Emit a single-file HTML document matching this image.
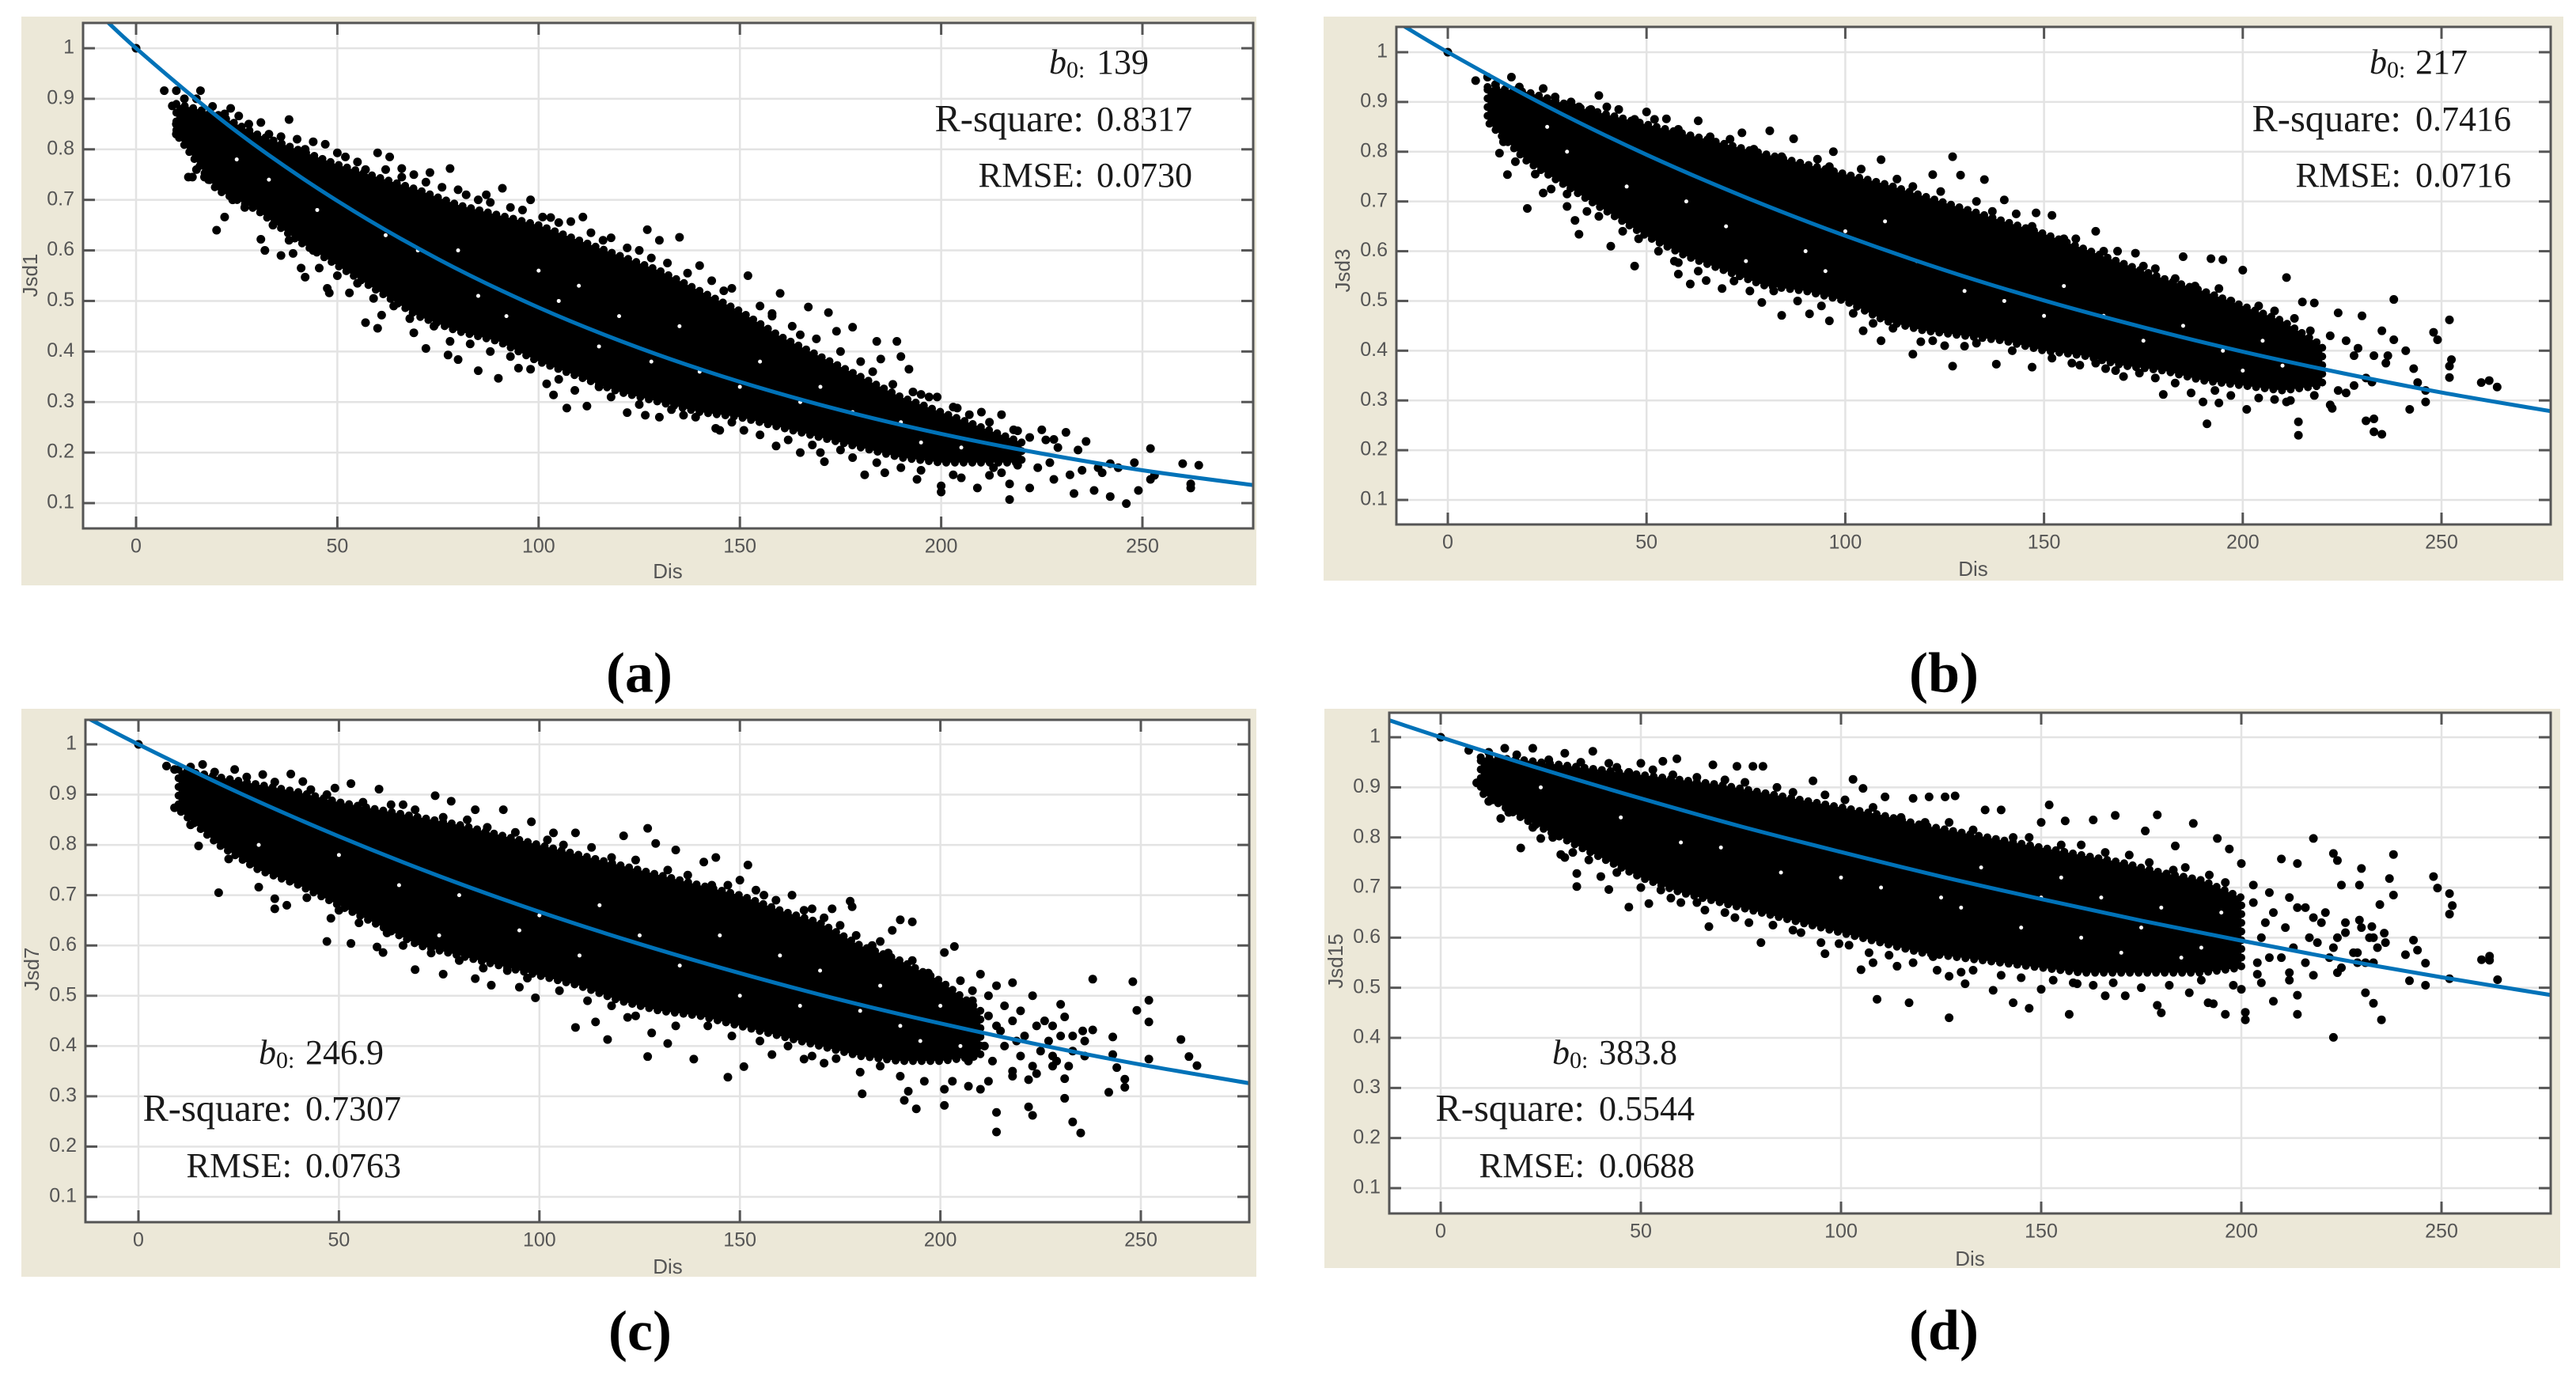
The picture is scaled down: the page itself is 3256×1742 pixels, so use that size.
<!DOCTYPE html>
<html lang="en">
<head>
<meta charset="utf-8">
<title>Jsd versus Dis exponential fits</title>
<style>
html,body{margin:0;padding:0;background:#fff;}
svg{display:block;}
.stat{font-family:"Liberation Serif",serif;font-size:44px;fill:#1a1a1a;dominant-baseline:middle;}
.statr{font-size:48.5px;}
.state{font-size:44.5px;}
.sub{font-family:"Liberation Serif",serif;font-size:72px;font-weight:bold;fill:#000;text-anchor:middle;dominant-baseline:middle;}
.axt{font-family:"Liberation Sans",sans-serif;font-size:26px;fill:#555;text-anchor:middle;dominant-baseline:middle;}
.tick{font-family:"Liberation Sans",sans-serif;font-size:25px;fill:#555;dominant-baseline:middle;}
</style>
</head>
<body>
<svg id="fig" xmlns="http://www.w3.org/2000/svg" width="3256" height="1742" viewBox="0 0 3256 1742">
<rect x="0" y="0" width="3256" height="1742" fill="#fff"/>

<rect x="27" y="21" width="1561" height="719" fill="#ece8d8"/>
<rect x="1673" y="21" width="1567" height="713" fill="#ece8d8"/>
<rect x="27" y="896" width="1561" height="718" fill="#ece8d8"/>
<rect x="1674" y="896" width="1562" height="707" fill="#ece8d8"/>

<g id="plot-a"></g>
<g id="plot-b"></g>
<g id="plot-c"></g>
<g id="plot-d"></g>

<text class="axt" x="844" y="724">Dis</text>
<text class="axt" x="2494" y="721">Dis</text>
<text class="axt" x="844" y="1603">Dis</text>
<text class="axt" x="2490" y="1593">Dis</text>
<text class="axt" transform="translate(40 348) rotate(-90)">Jsd1</text>
<text class="axt" transform="translate(1699 342) rotate(-90)">Jsd3</text>
<text class="axt" transform="translate(42 1225) rotate(-90)">Jsd7</text>
<text class="axt" transform="translate(1690 1215) rotate(-90)">Jsd15</text>

<g>
<text class="stat" x="1326" y="83"><tspan font-style="italic">b</tspan><tspan font-size="30" dy="8">0:</tspan></text>
<text class="stat" x="1386" y="83">139</text>
<text class="stat statr" x="1370" y="155" text-anchor="end">R-square:</text>
<text class="stat" x="1386" y="155">0.8317</text>
<text class="stat state" x="1370" y="226" text-anchor="end">RMSE:</text>
<text class="stat" x="1386" y="226">0.0730</text>
</g>
<g>
<text class="stat" x="2995" y="83"><tspan font-style="italic">b</tspan><tspan font-size="30" dy="8">0:</tspan></text>
<text class="stat" x="3053" y="83">217</text>
<text class="stat statr" x="3035" y="155" text-anchor="end">R-square:</text>
<text class="stat" x="3053" y="155">0.7416</text>
<text class="stat state" x="3035" y="226" text-anchor="end">RMSE:</text>
<text class="stat" x="3053" y="226">0.0716</text>
</g>
<g>
<text class="stat" x="327" y="1335"><tspan font-style="italic">b</tspan><tspan font-size="30" dy="8">0:</tspan></text>
<text class="stat" x="386" y="1335">246.9</text>
<text class="stat statr" x="369" y="1406" text-anchor="end">R-square:</text>
<text class="stat" x="386" y="1406">0.7307</text>
<text class="stat state" x="369" y="1478" text-anchor="end">RMSE:</text>
<text class="stat" x="386" y="1478">0.0763</text>
</g>
<g>
<text class="stat" x="1962" y="1335"><tspan font-style="italic">b</tspan><tspan font-size="30" dy="8">0:</tspan></text>
<text class="stat" x="2021" y="1335">383.8</text>
<text class="stat statr" x="2003" y="1406" text-anchor="end">R-square:</text>
<text class="stat" x="2021" y="1406">0.5544</text>
<text class="stat state" x="2003" y="1478" text-anchor="end">RMSE:</text>
<text class="stat" x="2021" y="1478">0.0688</text>
</g>

<text class="sub" x="808" y="858">(a)</text>
<text class="sub" x="2457" y="858">(b)</text>
<text class="sub" x="809" y="1690">(c)</text>
<text class="sub" x="2457" y="1689">(d)</text>
</svg>

<script>
const xTicks = [0, 50, 100, 150, 200, 250];
const xTickLabels = ["0", "50", "100", "150", "200", "250"];
const yTicks = [0.1, 0.2, 0.3, 0.4, 0.5, 0.6, 0.7, 0.8, 0.9, 1];
const yTickLabels = ["0.1", "0.2", "0.3", "0.4", "0.5", "0.6", "0.7", "0.8", "0.9", "1"];

const curveDis = [-14, 0, 25, 50, 75, 100, 125, 150, 175, 200, 225, 250, 280];
const curveA = [1.106, 1, 0.835, 0.698, 0.583, 0.487, 0.407, 0.340, 0.284, 0.237, 0.198, 0.165, 0.133];
const curveB = [1.067, 1, 0.891, 0.794, 0.708, 0.631, 0.562, 0.501, 0.447, 0.398, 0.355, 0.316, 0.275];
const curveC = [1.058, 1, 0.904, 0.817, 0.738, 0.667, 0.603, 0.545, 0.492, 0.445, 0.402, 0.363, 0.322];
const curveD = [1.037, 1, 0.937, 0.878, 0.822, 0.771, 0.722, 0.677, 0.634, 0.594, 0.556, 0.521, 0.482];

const coreDisA = [10, 20, 30, 40, 50, 60, 70, 80, 90, 100, 110, 120, 130, 140, 150, 160, 170, 180, 190, 200, 210, 220];
const coreLowA = [0.83, 0.72, 0.68, 0.62, 0.57, 0.52, 0.47, 0.44, 0.42, 0.38, 0.35, 0.32, 0.30, 0.28, 0.27, 0.25, 0.23, 0.21, 0.19, 0.18, 0.18, 0.18];
const coreHighA = [0.89, 0.87, 0.83, 0.80, 0.77, 0.745, 0.72, 0.69, 0.67, 0.65, 0.62, 0.59, 0.56, 0.52, 0.48, 0.43, 0.39, 0.35, 0.31, 0.28, 0.25, 0.22];
const gapDisA = [85,92,105,110,120,128,62,70,45,33,25,140,150,165,178,195,205,190,115,135,155,170,100,80];
const gapJsdA = [.51,.47,.50,.53,.47,.38,.63,.60,.68,.74,.78,.36,.33,.30,.28,.22,.21,.26,.41,.45,.38,.33,.56,.60];
const disA = [0,7,10,16,15,9,23.5,25.5,31,38,40,47,50,60,63,66,78,73,91,98,80,87,101,111,108,127,135,130,140,152,148,160,167,172,158,178,174,165,184,189,190,192,185,199,195,204,210,215,219,225,231,236,228,252,248,260,264,242,244,253,252,262,262,249,246,242,238,233,217,222,209,200,200,181,186,194,203,213,217,228,232,20,22,31,32,36,39,41,42,45.5,47.5,48,53,57,60,61,69,72,77.5,80,85,90,95,102,103.7,107,112,109,122,126.5,130,136,144,145,151,159,165,171,170,14,13,18,10,10];
const jsdA = [1,.916,.916,.916,.9,.886,.881,.866,.853,.859,.82,.81,.793,.793,.785,.762,.762,.754,.723,.70,.72,.71,.666,.666,.657,.641,.626,.62,.57,.55,.525,.515,.488,.477,.47,.448,.44,.433,.42,.42,.39,.365,.385,.31,.315,.288,.28,.275,.243,.245,.24,.222,.226,.208,.18,.178,.175,.178,.17,.155,.147,.138,.13,.125,.099,.113,.125,.119,.107,.13,.13,.134,.122,.156,.16,.147,.156,.17,.138,.147,.156,.64,.666,.622,.60,.59,.594,.565,.547,.565,.525,.516,.516,.457,.446,.472,.437,.406,.393,.384,.362,.347,.367,.336,.314,.288,.292,.323,.279,.274,.27,.274,.248,.244,.244,.213,.2,.182,.2,.745,.745,.74,.83,.85];
const edgeDisA = [12,19,22,28,33,36,42,44,52,55,57,62,66,69,72,76,82,85,88,93,96,103,105,113,116,118,122,125,128,132,137,143,146,155,158,163,169,175,180,183,188,193,197,203,207,212,218,222,226,229,234,15,17,24,27,34,38,44,50,55,59,64,68,74,78,83,88,93,98,105,115,118,125,133,139,148,155,162,168,175,178,184,190,195,205,212,215,219,224,227,235,240,239];
const edgeJsdA = [.90,.885,.87,.85,.83,.825,.80,.815,.785,.775,.76,.76,.745,.75,.735,.725,.71,.70,.695,.685,.68,.665,.655,.635,.62,.625,.605,.60,.585,.575,.555,.54,.52,.49,.475,.45,.425,.40,.38,.36,.335,.32,.31,.29,.275,.26,.245,.23,.225,.21,.205,.76,.745,.70,.685,.65,.62,.60,.55,.535,.505,.49,.465,.45,.42,.415,.40,.39,.365,.345,.33,.31,.295,.285,.27,.26,.235,.225,.215,.205,.19,.18,.17,.165,.15,.155,.16,.175,.17,.18,.165,.16,.17];

const coreDisB = [10, 20, 30, 40, 50, 60, 70, 80, 90, 100, 110, 120, 130, 140, 150, 160, 170, 180, 190, 200, 210, 220];
const coreLowB = [0.86, 0.78, 0.73, 0.68, 0.63, 0.59, 0.56, 0.53, 0.52, 0.50, 0.46, 0.44, 0.43, 0.42, 0.40, 0.39, 0.37, 0.36, 0.34, 0.33, 0.32, 0.33];
const coreHighB = [0.93, 0.92, 0.895, 0.875, 0.855, 0.835, 0.815, 0.795, 0.775, 0.755, 0.735, 0.71, 0.685, 0.66, 0.635, 0.605, 0.575, 0.545, 0.52, 0.49, 0.46, 0.41];
const gapDisB = [45,70,90,95,75,100,110,118,130,140,150,165,175,185,195,205,200,210,60,30,25,155];
const gapJsdB = [.73,.65,.60,.56,.58,.64,.66,.58,.52,.50,.47,.47,.42,.45,.40,.42,.36,.37,.70,.80,.85,.53];
const disB = [0,7,10,16,24,31,38,40,50,55,63,74,81,87,97,109,127,129,122,135,140,148,152,163,168.5,173,185,192,195,200,211,215,218,224,230,238,235,238,248,249,252,252.5,252,252,241,243,244,246,246,242,260,262,264,236.5,13,15,20,24,30,32,33,41,47,58,58,61,65,69,79,84,91,96,104.5,109,117,119,127,130,138,147,159,165.5,170,180,187,190,191,194,201,208,214,214,222,222.5,231,233,233,235,211,226,232.5];
const jsdB = [1,.943,.95,.95,.927,.90,.913,.89,.88,.866,.862,.838,.842,.826,.80,.784,.79,.753,.754,.744,.703,.677,.672,.64,.60,.596,.589,.585,.583,.562,.547,.498,.496,.476,.47,.503,.44,.422,.437,.422,.462,.382,.369,.346,.40,.364,.336,.32,.297,.282,.336,.34,.327,.39,.797,.754,.686,.717,.69,.662,.634,.61,.57,.577,.554,.534,.541,.525,.497,.471,.474,.46,.44,.42,.393,.418,.369,.409,.373,.367,.371,.364,.348,.312,.315,.297,.253,.295,.282,.302,.257,.23,.291,.284,.259,.263,.237,.232,.297,.315,.337];
const edgeDisB = [12,18,27,33,36,43,47,52,58,66,71,77,84,93,96,104,113,117,124,133,137,143,147,155,158,165,175,178,183,188,194,197,204,208,213,217,222,226,229,233,236,228,14,17,22,26,30,35,38,44,48,53,57,63,72,76,82,88,94,102,107,112,122,125,133,142,152,157,163,168,174,178,183,193,197,204,212,218,224,228,231];
const edgeJsdB = [.935,.93,.91,.89,.885,.885,.865,.865,.845,.83,.825,.805,.79,.785,.77,.765,.745,.73,.72,.70,.68,.675,.65,.625,.625,.60,.57,.565,.545,.53,.525,.50,.49,.48,.465,.44,.43,.42,.405,.39,.375,.39,.82,.78,.755,.725,.715,.68,.67,.64,.625,.60,.58,.56,.54,.52,.52,.50,.49,.475,.455,.445,.42,.41,.415,.40,.385,.375,.375,.36,.355,.345,.335,.32,.31,.305,.30,.31,.32,.33,.345];

const coreDisC = [10, 20, 30, 40, 50, 60, 70, 80, 90, 100, 110, 120, 130, 140, 150, 160, 170, 180, 190, 200, 210];
const coreLowC = [0.87, 0.80, 0.75, 0.72, 0.68, 0.64, 0.60, 0.58, 0.56, 0.54, 0.52, 0.49, 0.47, 0.46, 0.44, 0.42, 0.40, 0.38, 0.37, 0.37, 0.38];
const coreHighC = [0.95, 0.935, 0.92, 0.905, 0.885, 0.87, 0.855, 0.84, 0.82, 0.80, 0.78, 0.76, 0.74, 0.72, 0.70, 0.67, 0.645, 0.60, 0.57, 0.53, 0.47];
const gapDisC = [30,50,65,80,95,100,115,125,135,150,165,170,180,190,195,200,205,185,160,145,110,75];
const gapJsdC = [.80,.78,.72,.70,.63,.66,.68,.62,.56,.50,.48,.55,.47,.44,.41,.48,.40,.52,.58,.62,.58,.62];
const disC = [0,7,9,16,24,31,38,41,49,53,60,66,74,78,84,91,98,103.5,109,121,127,129,134,141,144,152,150,154,163,168,173,177.5,178,180,185,190,193,188,203.5,201,210,218,214,223,230,231,238,248,252,249,252,238,235.5,243,260,262,264,252,243,244,246,246,242,9,13,15,20,22.5,30,34,34,37,42,48,47,53,59.5,61,69,76,84,88,95,99,109,114,117,122,127,128,132,138.5,147,151,158,166,171,180,180.5,191,194,192,201,201,210,214,214,222,223,231,233,235,222,231];
const jsdC = [1,.957,.95,.96,.95,.94,.941,.926,.913,.922,.911,.88,.898,.887,.87,.87,.846,.824,.824,.818,.833,.803,.79,.766,.775,.76,.73,.71,.70,.673,.673,.688,.677,.586,.608,.651,.647,.63,.598,.586,.543,.526,.52,.50,.483,.458,.533,.528,.491,.471,.448,.432,.43,.418,.413,.379,.361,.374,.383,.357,.334,.318,.308,.874,.84,.798,.705,.772,.716,.693,.673,.68,.695,.654,.608,.604,.597,.586,.552,.543,.534,.521,.517,.496,.437,.448,.413,.457,.379,.426,.405,.374,.338,.359,.383,.374,.366,.348,.305,.292,.275,.31,.282,.314,.314,.268,.229,.279,.262,.296,.249,.227,.333,.335];
const edgeDisC = [13,19,27,34,43,47,56,63,69,76,82,87,94,102,106,113,118,124,132,137,143,147,156,159,166,171,175,179,183,187,193,197,205,208,212,216,220,226,228,233,236,12,17,23,27,32,38,44,50,55,62,66,73,80,86,92,97,105,112,118,124,134,142,148,155,162,168,174,185,190,196,203,207,212,218,224,228,212,215,218,221,224,227,230,233,216,220,225,229,213,218,223,228,232,236,214,219,208,206,209,207,211];
const edgeJsdC = [.955,.945,.935,.925,.91,.90,.885,.88,.87,.855,.85,.835,.825,.81,.80,.795,.775,.77,.75,.74,.72,.72,.70,.69,.67,.655,.64,.62,.60,.585,.57,.545,.53,.51,.50,.48,.47,.45,.44,.42,.41,.88,.84,.80,.78,.75,.73,.71,.67,.645,.625,.60,.585,.57,.555,.55,.535,.51,.49,.48,.46,.44,.44,.42,.41,.40,.38,.375,.36,.34,.33,.33,.32,.33,.34,.345,.36,.46,.43,.45,.42,.44,.41,.42,.39,.40,.38,.39,.37,.37,.35,.36,.38,.36,.38,.44,.41,.49,.44,.39,.37,.40];

const coreDisD = [10, 20, 30, 40, 50, 60, 70, 80, 90, 100, 110, 120, 130, 140, 150, 160, 170, 180, 190, 200];
const coreLowD = [0.89, 0.84, 0.80, 0.76, 0.72, 0.69, 0.67, 0.65, 0.63, 0.61, 0.59, 0.57, 0.56, 0.55, 0.54, 0.53, 0.53, 0.53, 0.53, 0.54];
const coreHighD = [0.96, 0.955, 0.945, 0.935, 0.925, 0.915, 0.905, 0.89, 0.875, 0.86, 0.845, 0.825, 0.81, 0.795, 0.78, 0.765, 0.75, 0.73, 0.715, 0.68];
const gapDisD = [25,45,60,70,85,100,110,125,130,145,150,160,165,175,180,190,195,185,170,155,135];
const gapJsdD = [.90,.84,.79,.78,.73,.72,.70,.68,.66,.62,.68,.60,.68,.62,.66,.58,.65,.56,.57,.72,.74];
const disD = [0,7,16,23,31,38,42,50,55.5,59,68,74,78,80.5,93,103,105.5,111,118,122,126,128.5,136,140,152,150,156,163,168.5,176,179,188,183.5,197,194,200,210,214,218,223,224,230,238,225,229.5,237,238,234.6,248,249,252,252.7,252,243,244,241,246,260,262,262,264,252,242,246,229.5,232.6,235.7,9,12,15,20,25,30,31,34,34,40,42,47,52,57.5,64,67,73.5,80,88,96,99.5,105,108,109,114,117,123,127,127,130,131,138,143,147,150,157,159,166,171,179,180,187,191.7,193,196,201,201,208,214,214,223,231,233,235,200,204];
const jsdD = [1,.974,.978,.978,.968,.972,.948,.948,.952,.957,.945,.942,.942,.942,.913,.916,.898,.881,.878,.881,.881,.883,.855,.855,.865,.83,.833,.835,.844,.813,.845,.828,.783,.777,.798,.748,.757,.748,.798,.768,.754,.738,.766,.705,.705,.718,.685,.666,.722,.699,.688,.664,.647,.595,.575,.566,.549,.556,.563,.555,.516,.518,.514,.505,.635,.622,.609,.909,.872,.838,.779,.798,.766,.76,.728,.702,.722,.696,.661,.668,.679,.67,.622,.64,.59,.615,.568,.588,.536,.55,.477,.543,.47,.562,.523,.44,.531,.508,.495,.47,.459,.497,.447,.508,.484,.484,.465,.45,.49,.47,.468,.447,.451,.436,.473,.447,.485,.401,.49,.469,.436,.497,.527];
const edgeDisD = [12,19,27,35,44,47,53,58,64,71,76,84,88,96,101,108,115,121,127,133,143,147,155,160,166,172,177,183,186,192,196,203,207,212,216,221,226,230,233,236,13,17,23,28,33,37,44,50,55,60,66,71,77,83,90,95,102,107,112,118,124,133,140,145,153,158,163,168,175,182,190,198,205,212,218,224,229,233,208,211,214,217,220,223,226,229,232,210,213,216,219,222,225,228,231,234,212,218,224,203,205,207,204,206];
const edgeJsdD = [.97,.965,.955,.95,.94,.93,.935,.925,.92,.915,.91,.90,.89,.885,.875,.86,.84,.83,.83,.815,.80,.80,.785,.785,.77,.765,.75,.735,.74,.725,.71,.705,.69,.68,.66,.65,.63,.62,.60,.59,.875,.85,.82,.80,.77,.755,.73,.70,.695,.67,.655,.65,.63,.625,.61,.59,.585,.57,.565,.55,.535,.535,.525,.52,.515,.51,.505,.51,.50,.505,.515,.505,.51,.515,.525,.53,.55,.55,.65,.62,.66,.60,.63,.58,.61,.57,.60,.56,.58,.55,.59,.56,.54,.57,.55,.58,.53,.64,.60,.67,.60,.56,.55,.63];

const NS = "http://www.w3.org/2000/svg";
const panels = [
  {key:"a", l:105, t:29, r:1584, b:668, x0:172, x250:1444, y1:61, y01:636, dis:disA.concat(edgeDisA), jsd:jsdA.concat(edgeJsdA), curve:curveA, cd:coreDisA, cl:coreLowA, ch:coreHighA, gd:gapDisA, gj:gapJsdA},
  {key:"b", l:1765, t:34, r:3224, b:663, x0:1830, x250:3086, y1:66, y01:632, dis:disB.concat(edgeDisB), jsd:jsdB.concat(edgeJsdB), curve:curveB, cd:coreDisB, cl:coreLowB, ch:coreHighB, gd:gapDisB, gj:gapJsdB},
  {key:"c", l:108, t:910, r:1579, b:1545, x0:175, x250:1442, y1:941, y01:1513, dis:disC.concat(edgeDisC), jsd:jsdC.concat(edgeJsdC), curve:curveC, cd:coreDisC, cl:coreLowC, ch:coreHighC, gd:gapDisC, gj:gapJsdC},
  {key:"d", l:1756, t:901, r:3224, b:1534, x0:1821, x250:3086, y1:932, y01:1502, dis:disD.concat(edgeDisD), jsd:jsdD.concat(edgeJsdD), curve:curveD, cd:coreDisD, cl:coreLowD, ch:coreHighD, gd:gapDisD, gj:gapJsdD}
];

function svgEl(tag, parent) {
  const el = document.createElementNS(NS, tag);
  parent.appendChild(el);
  return el;
}

function smoothPath(pts) {
  let d = "M" + pts[0][0] + " " + pts[0][1];
  for (let i = 0; i < pts.length - 1; i++) {
    const p0 = pts[Math.max(i - 1, 0)], p1 = pts[i], p2 = pts[i + 1], p3 = pts[Math.min(i + 2, pts.length - 1)];
    const c1x = p1[0] + (p2[0] - p0[0]) / 6, c1y = p1[1] + (p2[1] - p0[1]) / 6;
    const c2x = p2[0] - (p3[0] - p1[0]) / 6, c2y = p2[1] - (p3[1] - p1[1]) / 6;
    d += "C" + c1x + " " + c1y + " " + c2x + " " + c2y + " " + p2[0] + " " + p2[1];
  }
  return d;
}

panels.forEach(function (p) {
  const g = document.getElementById("plot-" + p.key);
  const sx = function (v) { return p.x0 + (p.x250 - p.x0) * v / 250; };
  const sy = function (v) { return p.y1 + (p.y01 - p.y1) * (1 - v) / 0.9; };

  const bg = svgEl("rect", g);
  
  
  bg.setAttribute("x", p.l); bg.setAttribute("y", p.t);
  bg.setAttribute("width", p.r - p.l); bg.setAttribute("height", p.b - p.t);
  bg.setAttribute("fill", "#fff");

  const defs = svgEl("defs", g);
  const clip = svgEl("clipPath", defs);
  clip.setAttribute("id", "clip-" + p.key);
  const clipRect = svgEl("rect", clip);
  clipRect.setAttribute("x", p.l); clipRect.setAttribute("y", p.t);
  clipRect.setAttribute("width", p.r - p.l); clipRect.setAttribute("height", p.b - p.t);

  xTicks.forEach(function (v) {
    const line = svgEl("line", g);
    
    
    line.setAttribute("x1", sx(v)); line.setAttribute("x2", sx(v));
    line.setAttribute("y1", p.t); line.setAttribute("y2", p.b);
    line.setAttribute("stroke", "#e3e3e3"); line.setAttribute("stroke-width", "2.5");
  });
  yTicks.forEach(function (v) {
    const line = svgEl("line", g);
    
    
    line.setAttribute("x1", p.l); line.setAttribute("x2", p.r);
    line.setAttribute("y1", sy(v)); line.setAttribute("y2", sy(v));
    line.setAttribute("stroke", "#e3e3e3"); line.setAttribute("stroke-width", "2.5");
  });

  const top = p.cd.map(function (v, i) { return sx(v) + "," + sy(p.ch[i]); });
  const bottom = p.cd.map(function (v, i) { return sx(v) + "," + sy(p.cl[i]); }).reverse();
  const core = svgEl("polygon", g);
  
  
  core.setAttribute("points", top.concat(bottom).join(" "));
  core.setAttribute("fill", "#000");
  const edge = svgEl("polygon", g);
  
  
  edge.setAttribute("points", top.concat(bottom).join(" "));
  edge.setAttribute("fill", "none");
  edge.setAttribute("stroke", "#000");
  edge.setAttribute("stroke-width", "10");
  edge.setAttribute("stroke-linecap", "round");
  edge.setAttribute("stroke-dasharray", "0 11");

  const gapCount = Math.min(p.gd.length, p.gj.length);
  for (let i = 0; i < gapCount; i++) {
    const gap = svgEl("circle", g);
    
    
    gap.setAttribute("cx", sx(p.gd[i]));
    gap.setAttribute("cy", sy(p.gj[i]));
    gap.setAttribute("r", "2.5");
    gap.setAttribute("fill", "#fff");
  }

  const n = Math.min(p.dis.length, p.jsd.length);
  for (let i = 0; i < n; i++) {
    const dot = svgEl("circle", g);
    
    
    dot.setAttribute("cx", sx(p.dis[i]));
    dot.setAttribute("cy", sy(p.jsd[i]));
    dot.setAttribute("r", "5.5");
    dot.setAttribute("fill", "#000");
  }

  const curvePts = curveDis.map(function (v, i) { return [sx(v), sy(p.curve[i])]; });
  const fit = svgEl("path", g);
  
  
  fit.setAttribute("d", smoothPath(curvePts));
  fit.setAttribute("fill", "none");
  fit.setAttribute("stroke", "#0072b8");
  fit.setAttribute("stroke-width", "5");
  fit.setAttribute("clip-path", "url(#clip-" + p.key + ")");

  xTicks.forEach(function (v, i) {
    [[p.t, p.t + 15], [p.b - 15, p.b]].forEach(function (s) {
      const t = svgEl("line", g);
      
      
      t.setAttribute("x1", sx(v)); t.setAttribute("x2", sx(v));
      t.setAttribute("y1", s[0]); t.setAttribute("y2", s[1]);
      t.setAttribute("stroke", "#555"); t.setAttribute("stroke-width", "3");
    });
    const lab = svgEl("text", g);
    
    
    lab.setAttribute("class", "tick");
    lab.setAttribute("x", sx(v)); lab.setAttribute("y", p.b + 24);
    lab.setAttribute("text-anchor", "middle");
    lab.textContent = xTickLabels[i];
  });
  yTicks.forEach(function (v, i) {
    [[p.l, p.l + 15], [p.r - 15, p.r]].forEach(function (s) {
      const t = svgEl("line", g);
      
      
      t.setAttribute("x1", s[0]); t.setAttribute("x2", s[1]);
      t.setAttribute("y1", sy(v)); t.setAttribute("y2", sy(v));
      t.setAttribute("stroke", "#555"); t.setAttribute("stroke-width", "3");
    });
    const lab = svgEl("text", g);
    
    
    lab.setAttribute("class", "tick");
    lab.setAttribute("x", p.l - 11); lab.setAttribute("y", sy(v));
    lab.setAttribute("text-anchor", "end");
    lab.textContent = yTickLabels[i];
  });

  const frame = svgEl("rect", g);
  
  
  frame.setAttribute("x", p.l); frame.setAttribute("y", p.t);
  frame.setAttribute("width", p.r - p.l); frame.setAttribute("height", p.b - p.t);
  frame.setAttribute("fill", "none");
  frame.setAttribute("stroke", "#555");
  frame.setAttribute("stroke-width", "3");
});
</script>
</body>
</html>
